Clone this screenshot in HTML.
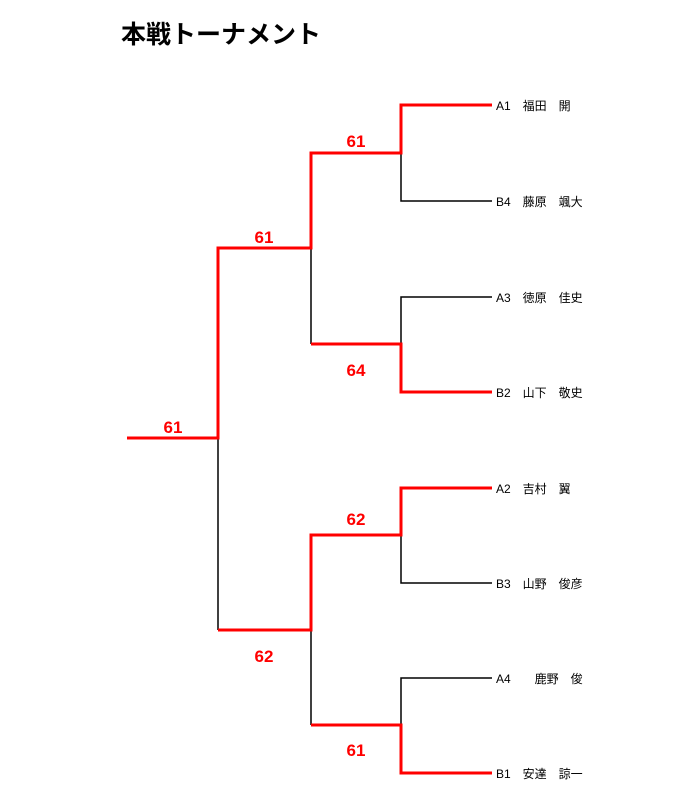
<!DOCTYPE html>
<html><head><meta charset="utf-8"><style>
body{margin:0;background:#fff;width:680px;height:800px;overflow:hidden}
</style></head><body>
<svg width="680" height="800" xmlns="http://www.w3.org/2000/svg" style="position:absolute;left:0;top:0">
<text x="121" y="43" font-family="Liberation Sans, Noto Sans CJK JP, sans-serif" font-size="25" font-weight="bold" fill="#000">本戦トーナメント</text>
<g fill="none" stroke="#000" stroke-width="1.5">
<polyline points="492,201 401,201 401,153"/>
<polyline points="492,297 401,297 401,344"/>
<polyline points="311,248 311,344"/>
<polyline points="492,583 401,583 401,535"/>
<polyline points="492,678 401,678 401,725"/>
<polyline points="311,630 311,725"/>
<polyline points="218,438 218,630"/>
</g>
<g fill="none" stroke="#f00" stroke-width="3">
<polyline points="492,105 401,105 401,153 311,153 311,248 218,248 218,438 127,438"/>
<polyline points="492,392 401,392 401,344 311,344"/>
<polyline points="492,488 401,488 401,535 311,535 311,630 218,630"/>
<polyline points="492,773 401,773 401,725 311,725"/>
</g>
<g font-family="Liberation Sans, sans-serif" font-size="17" font-weight="bold" fill="#f00" text-anchor="middle">
<text x="356" y="147">61</text>
<text x="264" y="243">61</text>
<text x="356" y="376">64</text>
<text x="173" y="433">61</text>
<text x="356" y="525">62</text>
<text x="264" y="662">62</text>
<text x="356" y="756">61</text>
</g>
<g font-family="Liberation Sans, Noto Sans CJK JP, sans-serif" font-size="12" fill="#000">
<text x="496" y="110">A1　福田　開</text>
<text x="496" y="206">B4　藤原　颯大</text>
<text x="496" y="302">A3　徳原　佳史</text>
<text x="496" y="397">B2　山下　敬史</text>
<text x="496" y="493">A2　吉村　翼</text>
<text x="496" y="588">B3　山野　俊彦</text>
<text x="496" y="683">A4　　鹿野　俊</text>
<text x="496" y="778">B1　安達　諒一</text>
</g>
</svg>
</body></html>
